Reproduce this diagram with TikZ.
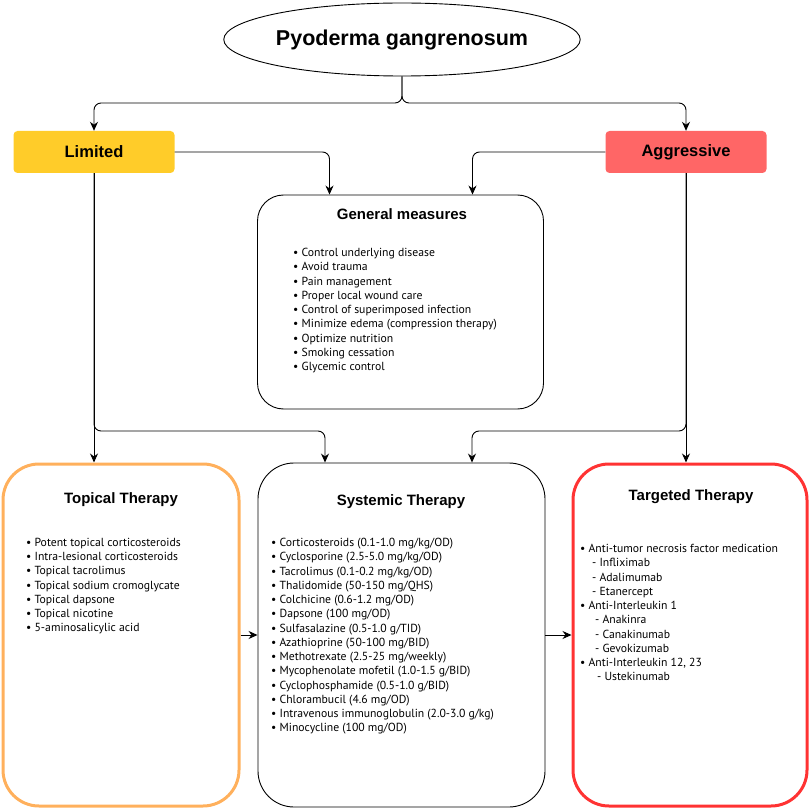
\documentclass[tikz,border=0pt]{standalone}
\usepackage{fontspec}
\setmainfont{PT Sans}
\newfontfamily\headfont{Liberation Sans}
\usetikzlibrary{shapes.geometric,arrows.meta}
\definecolor{limcol}{HTML}{FFCC29}
\definecolor{aggcol}{HTML}{FF6666}
\definecolor{topcol}{HTML}{FFB05C}
\definecolor{tarcol}{HTML}{FF3333}
\tikzset{
  arr/.style={draw=black, line width=0.9pt, -{Stealth[length=9pt,width=8pt]}, rounded corners=7pt},
  catbox/.style={rectangle, rounded corners=4pt, minimum width=161pt, minimum height=42pt, inner sep=0pt, font=\headfont\bfseries\fontsize{16.5}{18}\selectfont},
  bigbox/.style={rectangle, rounded corners=36pt, inner sep=0pt},
  boxtitle/.style={font=\headfont\bfseries\fontsize{15}{17}\selectfont, inner sep=0pt},
  lst/.style={anchor=north west, align=left, inner sep=0pt, font=\fontsize{11.7}{14.25}\selectfont}
}
\begin{document}
\begin{tikzpicture}[x=1pt,y=-1pt]
\useasboundingbox (0,0) rectangle (811,810);
% main nodes
\node[ellipse, draw, line width=0.9pt, minimum width=334pt, minimum height=73pt, inner sep=0pt,
      font=\headfont\bfseries\fontsize{21.5}{24}\selectfont] (pg) at (402,39.5) {Pyoderma gangrenosum};
\node[catbox, fill=limcol] (lim) at (94,152) {Limited};
\node[catbox, fill=aggcol] (agg) at (686,152) {Aggressive};
\node[bigbox, draw, line width=0.9pt, rounded corners=26pt, minimum width=286pt, minimum height=214pt] (gm) at (400.5,302) {};
\node[bigbox, draw=topcol, line width=3pt, minimum width=236pt, minimum height=342pt] (top) at (121,635) {};
\node[bigbox, draw, line width=0.9pt, minimum width=287pt, minimum height=344pt] (sys) at (401.5,635) {};
\node[bigbox, draw=tarcol, line width=3pt, minimum width=234pt, minimum height=342pt] (tar) at (690,635) {};
% titles
\node[boxtitle] (gmt) at (402,214) {General measures};
\node[boxtitle] (topt) at (121,500) {Topical Therapy};
\node[boxtitle] (syst) at (401,502) {Systemic Therapy};
\node[boxtitle] (tart) at (691,497) {Targeted Therapy};
% lists
\node[lst] (gml) at (293,248) {%
• Control underlying disease\\
• Avoid trauma\\
• Pain management\\
• Proper local wound care\\
• Control of superimposed infection\\
• Minimize edema (compression therapy)\\
• Optimize nutrition\\
• Smoking cessation\\
• Glycemic control};
\node[lst] (topl) at (26,538) {%
• Potent topical corticosteroids\\
• Intra-lesional corticosteroids\\
• Topical tacrolimus\\
• Topical sodium cromoglycate\\
• Topical dapsone\\
• Topical nicotine\\
• 5-aminosalicylic acid};
\node[lst] (sysl) at (271,538) {%
• Corticosteroids (0.1-1.0 mg/kg/OD)\\
• Cyclosporine (2.5-5.0 mg/kg/OD)\\
• Tacrolimus (0.1-0.2 mg/kg/OD)\\
• Thalidomide (50-150 mg/QHS)\\
• Colchicine (0.6-1.2 mg/OD)\\
• Dapsone (100 mg/OD)\\
• Sulfasalazine (0.5-1.0 g/TID)\\
• Azathioprine (50-100 mg/BID)\\
• Methotrexate (2.5-25 mg/weekly)\\
• Mycophenolate mofetil (1.0-1.5 g/BID)\\
• Cyclophosphamide (0.5-1.0 g/BID)\\
• Chlorambucil (4.6 mg/OD)\\
• Intravenous immunoglobulin (2.0-3.0 g/kg)\\
• Minocycline (100 mg/OD)};
\node[lst] (tarl) at (580,544) {%
• Anti-tumor necrosis factor medication\\
\hspace*{12pt}- Infliximab\\
\hspace*{12pt}- Adalimumab\\
\hspace*{12pt}- Etanercept\\
• Anti-Interleukin 1\\
\hspace*{15pt}- Anakinra\\
\hspace*{15pt}- Canakinumab\\
\hspace*{15pt}- Gevokizumab\\
• Anti-Interleukin 12, 23\\
\hspace*{17pt}- Ustekinumab};
% connectors
\coordinate (split) at (402,103);
\coordinate (lbr) at (94,431);
\coordinate (rbr) at (686,431);
\draw[arr] (pg.south) -- (split) -| (lim.north);
\draw[arr] (pg.south) -- (split) -| (agg.north);
\draw[arr] (lim.east) -| ([xshift=-71pt]gm.north);
\draw[arr] (agg.west) -| ([xshift=72pt]gm.north);
\draw[arr] (lim.south) -- (lim.south |- top.north);
\draw[arr] (lim.south) -- (lbr) -| ([xshift=-76.5pt]sys.north);
\draw[arr] (agg.south) -- (agg.south |- tar.north);
\draw[arr] (agg.south) -- (rbr) -| ([xshift=70.5pt]sys.north);
\draw[arr, rounded corners=0pt] (top.east) -- (sys.west);
\draw[arr, rounded corners=0pt] (sys.east) -- (tar.west);
\end{tikzpicture}
\end{document}
